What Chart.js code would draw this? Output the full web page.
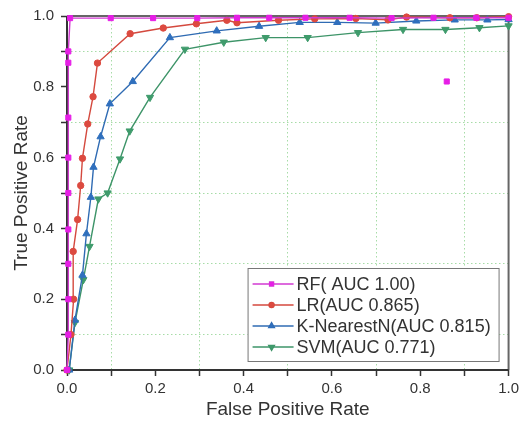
<!DOCTYPE html>
<html lang="en">
<head>
<meta charset="UTF-8">
<title>ROC curves</title>
<script src="https://cdn.jsdelivr.net/npm/chart.js"></script>
<style>
  html, body { margin: 0; padding: 0; background: #fff; }
  #wrap { width: 523px; height: 430px; }
</style>
</head>
<body>
<div id="wrap"><canvas id="roc" width="523" height="430"></canvas></div>
<script>
// ROC points (x = false positive rate, y = true positive rate)
// null marks a break in the line (the lone RF point is not joined)
const rfX = [0, 0.003, 0.003, 0.003, 0.003, 0.003, 0.003, 0.003, 0.003, 0.003, 0.007, 0.099, 0.195, 0.295, 0.385, 0.458, 0.54, 0.64, 0.735, 0.83, 0.927, 1.0, null, 0.86];
const rfY = [0, 0.1, 0.2, 0.3, 0.397, 0.5, 0.6, 0.713, 0.868, 0.9, 0.994, 0.994, 0.994, 0.994, 0.995, 0.995, 0.995, 0.995, 0.994, 0.995, 0.995, 0.995, null, 0.815];

const lrX = [0, 0.009, 0.015, 0.014, 0.024, 0.031, 0.035, 0.047, 0.059, 0.069, 0.143, 0.218, 0.293, 0.362, 0.385, 0.479, 0.561, 0.654, 0.727, 0.769, 0.867, 0.928, 1.0];
const lrY = [0, 0.1, 0.2, 0.335, 0.425, 0.521, 0.598, 0.695, 0.772, 0.867, 0.95, 0.966, 0.978, 0.988, 0.981, 0.988, 0.992, 0.993, 0.989, 0.997, 0.995, 0.995, 0.998];

const knnX = [0.005, 0.018, 0.035, 0.044, 0.054, 0.06, 0.076, 0.097, 0.149, 0.233, 0.339, 0.435, 0.527, 0.612, 0.699, 0.791, 0.878, 0.952, 1.0];
const knnY = [0, 0.141, 0.268, 0.385, 0.488, 0.573, 0.659, 0.752, 0.815, 0.939, 0.958, 0.971, 0.982, 0.982, 0.98, 0.986, 0.989, 0.989, 0.99];

const svmX = [0.005, 0.018, 0.037, 0.051, 0.071, 0.092, 0.12, 0.142, 0.188, 0.267, 0.355, 0.45, 0.545, 0.659, 0.761, 0.857, 0.934, 1.0];
const svmY = [0, 0.134, 0.255, 0.349, 0.483, 0.5, 0.596, 0.675, 0.77, 0.906, 0.926, 0.939, 0.939, 0.953, 0.962, 0.962, 0.967, 0.972];

const seriesNames = ['RF( AUC 1.00)', 'LR(AUC 0.865)', 'K-NearestN(AUC 0.815)', 'SVM(AUC 0.771)'];
const tickValues = [0, 0.2, 0.4, 0.6, 0.8, 1.0];

function toPoints(xs, ys) {
  return xs.map((x, i) => ({ x: x, y: ys[i] }));
}

const FONT = '"Liberation Sans", Arial, sans-serif';
const TEXT = '#333';
const GRID_GREEN = 'rgba(130, 205, 130, 0.7)';

function isOddTenth(v) {
  return Math.round(v * 10) % 2 === 1;
}

// frame around the plot area, drawn under the markers
const framePlugin = {
  id: 'frame',
  beforeDatasetsDraw(chart) {
    const a = chart.chartArea;
    const ctx = chart.ctx;
    ctx.save();
    ctx.lineWidth = 2;
    ctx.strokeStyle = '#666';
    ctx.beginPath();
    ctx.moveTo(a.left, a.top);
    ctx.lineTo(a.right, a.top);
    ctx.lineTo(a.right, a.bottom);
    ctx.stroke();
    ctx.strokeStyle = '#333';
    ctx.beginPath();
    ctx.moveTo(a.left, a.top);
    ctx.lineTo(a.left, a.bottom);
    ctx.lineTo(a.right, a.bottom);
    ctx.stroke();
    ctx.restore();
  }
};

// legend box sitting in the lower right corner of the plot
const boxLegend = {
  id: 'boxLegend',
  afterDraw(chart) {
    const a = chart.chartArea;
    const ctx = chart.ctx;
    const w = 251, h = 93;
    const x0 = a.right - 10 - w;
    const y0 = a.bottom - 9 - h;
    ctx.save();
    ctx.fillStyle = '#fff';
    ctx.fillRect(x0, y0, w, h);
    ctx.strokeStyle = '#777';
    ctx.lineWidth = 1;
    ctx.strokeRect(x0 + 0.5, y0 + 0.5, w, h);
    ctx.font = '18px ' + FONT;
    ctx.textBaseline = 'middle';
    chart.data.datasets.forEach((ds, i) => {
      const cy = y0 + 16 + i * 21;
      ctx.strokeStyle = ds.borderColor;
      ctx.lineWidth = 1.3;
      ctx.beginPath();
      ctx.moveTo(x0 + 5, cy);
      ctx.lineTo(x0 + 46, cy);
      ctx.stroke();
      Chart.helpers.drawPoint(ctx, {
        pointStyle: ds.pointStyle,
        rotation: ds.pointRotation || 0,
        radius: ds.pointRadius * 0.8,
        borderWidth: 1
      }, x0 + 24, cy);
      ctx.fillStyle = ds.pointBackgroundColor;
      ctx.fill();
      ctx.fillStyle = TEXT;
      ctx.fillText(ds.label, x0 + 49, cy + 1);
    });
    ctx.restore();
  }
};

const axisTicks = {
  stepSize: 0.1,
  autoSkip: false,
  maxRotation: 0,
  color: TEXT,
  font: { family: FONT, size: 15 },
  callback: (v) => {
    const k = Math.round(v * 10);
    return tickValues.some(t => Math.round(t * 10) === k) ? (k / 10).toFixed(1) : '';
  }
};

const axisGrid = {
  color: (c) => (c.tick && isOddTenth(c.tick.value)) ? GRID_GREEN : 'rgba(0,0,0,0)',
  lineWidth: 1,
  tickColor: '#333',
  tickLength: 6,
  tickWidth: 1.5
};

new Chart(document.getElementById('roc'), {
  type: 'line',
  data: {
    datasets: [
      {
        label: seriesNames[0],
        data: toPoints(rfX, rfY),
        borderColor: '#d23ad2',
        pointBackgroundColor: '#e61ee6',
        pointBorderColor: '#e61ee6',
        pointStyle: 'rect',
        pointRadius: 3.6
      },
      {
        label: seriesNames[1],
        data: toPoints(lrX, lrY),
        borderColor: '#d4493e',
        pointBackgroundColor: '#dc4a40',
        pointBorderColor: '#dc4a40',
        pointStyle: 'circle',
        pointRadius: 3.2
      },
      {
        label: seriesNames[2],
        data: toPoints(knnX, knnY),
        borderColor: '#2f6bb3',
        pointBackgroundColor: '#2f6fbd',
        pointBorderColor: '#2f6fbd',
        pointStyle: 'triangle',
        pointRadius: 4.2
      },
      {
        label: seriesNames[3],
        data: toPoints(svmX, svmY),
        borderColor: '#3d9468',
        pointBackgroundColor: '#3f9b6c',
        pointBorderColor: '#3f9b6c',
        pointStyle: 'triangle',
        pointRotation: 180,
        pointRadius: 4.2
      }
    ]
  },
  options: {
    responsive: false,
    animation: false,
    spanGaps: false,
    clip: false,
    datasets: {
      line: { borderWidth: 1.4, tension: 0, fill: false, pointBorderWidth: 1 }
    },
    layout: { padding: { left: 0, top: 15, right: 14, bottom: 0 } },
    plugins: {
      legend: { display: false },
      tooltip: { enabled: false }
    },
    scales: {
      x: {
        type: 'linear',
        min: 0,
        max: 1,
        ticks: Object.assign({ padding: 4 }, axisTicks),
        grid: axisGrid,
        border: { display: false, dash: [1.5, 2.5] },
        title: {
          display: true,
          text: 'False Positive Rate',
          color: TEXT,
          font: { family: FONT, size: 19 },
          padding: { top: 4, bottom: 9 }
        },
        afterFit: (s) => { s.height = 60; }
      },
      y: {
        type: 'linear',
        min: 0,
        max: 1,
        ticks: Object.assign({ padding: 7 }, axisTicks),
        grid: axisGrid,
        border: { display: false, dash: [1.5, 2.5] },
        title: {
          display: true,
          text: 'True Positive Rate',
          color: TEXT,
          font: { family: FONT, size: 19 },
          padding: { top: 10, bottom: 4 }
        },
        afterFit: (s) => { s.width = 67; }
      }
    }
  },
  plugins: [framePlugin, boxLegend]
});
</script>
</body>
</html>
